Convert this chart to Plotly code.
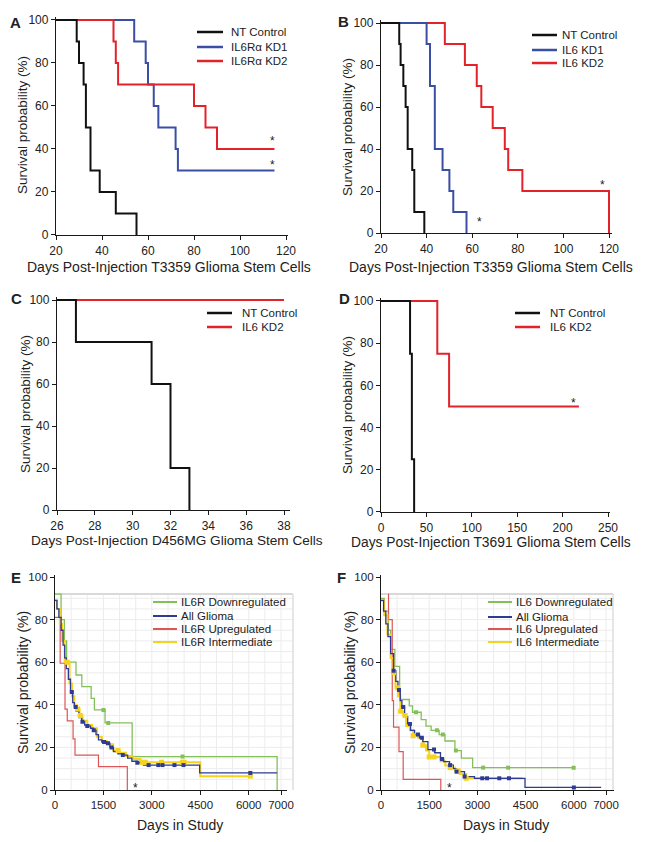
import numpy as np
import plotly.graph_objects as go

W, H = 651, 842
FONT = "Liberation Sans, Arial, sans-serif"

# ---------------- Data ----------------
# Panel A (T3359, IL6R alpha knockdown)
a_nt_days = [20, 29, 30, 32, 33, 35, 39, 46, 55]
a_nt_surv = [100, 90, 80, 70, 50, 30, 20, 10, 0]
a_kd1_days = [20, 54, 59, 60, 62.5, 64.5, 72, 73, 115]
a_kd1_surv = [100, 90, 80, 70, 60, 50, 40, 30, 30]
a_kd2_days = [20, 45, 46, 47, 80, 85, 90, 115]
a_kd2_surv = [100, 90, 80, 70, 60, 50, 40, 40]
a_star_x = [114, 114]
a_star_y = [45, 34]
a_legend = ["NT Control", "IL6Rα KD1", "IL6Rα KD2"]

# Panel B (T3359, IL6 knockdown)
b_nt_days = [20, 28, 28.6, 29.8, 30.8, 31.7, 33.7, 34.6, 39]
b_nt_surv = [100, 90, 80, 70, 60, 40, 30, 10, 0]
b_kd1_days = [20, 40, 41.5, 43.6, 47, 50, 51.7, 57.5]
b_kd1_surv = [100, 90, 70, 40, 30, 20, 10, 0]
b_kd2_days = [20, 48, 56.8, 62, 64, 69, 74.3, 75.8, 82, 120]
b_kd2_surv = [100, 90, 80, 70, 60, 50, 40, 30, 20, 0]
b_star_x = [117, 63]
b_star_y = [24.5, 6.5]
b_legend = ["NT Control", "IL6 KD1", "IL6 KD2"]

# Panel C (D456MG)
c_nt_days = [26, 27, 31, 32, 33]
c_nt_surv = [100, 80, 60, 20, 0]
c_kd2_days = [26, 38]
c_kd2_surv = [100, 100]
c_star_x = [37.9]
c_star_y = [104]
c_legend = ["NT Control", "IL6 KD2"]

# Panel D (T3691)
d_nt_days = [0, 32, 34, 36.5]
d_nt_surv = [100, 75, 25, 0]
d_kd2_days = [0, 62, 75, 218]
d_kd2_surv = [100, 75, 50, 50]
d_star_x = [212]
d_star_y = [53]
d_legend = ["NT Control", "IL6 KD2"]

# Panel E (REMBRANDT, IL6R)
e_down_days = [0, 188, 290, 360, 650, 830, 1120, 1220, 1550, 2390, 6880]
e_down_surv = [92, 80, 70, 60, 54, 48.5, 43, 37.6, 31.5, 15.7, 0]
e_down_cens = [1500, 1650, 3950]
e_all_days = [0, 60, 120, 190, 250, 300, 350, 414, 480, 549, 600, 652, 740, 828, 920,
              983, 1100, 1190, 1270, 1346, 1450, 1605, 1700, 1812, 1950, 2100, 2250,
              2381, 2550, 2743, 4480, 6880]
e_all_surv = [89, 85, 81, 75, 68, 62, 57, 52, 46, 41, 39, 37, 34, 32, 30.5,
              30, 29, 28, 26, 23.5, 22.5, 22, 20, 18, 17, 16.4, 15,
              13.5, 12.8, 11.7, 8, 8]
e_all_cens = [520, 640, 850, 1000, 1200, 1520, 1640, 1750, 2100, 2550, 2900, 3200,
              3330, 3700, 3980, 6050]
e_int_days = [0, 60, 150, 220, 300, 450, 530, 600, 680, 760, 850, 1000, 1150, 1300,
              1450, 1600, 1800, 2000, 2200, 2400, 2650, 4500, 6050]
e_int_surv = [89, 85, 78, 70, 60, 50, 44, 40, 38, 35, 32.5, 30.5, 29, 25,
              23, 21.5, 18.5, 17.5, 16, 14.5, 13, 6.5, 6.5]
e_int_cens = [380, 700, 780, 1950, 2700, 2800, 3300, 3950, 4000, 6050]
e_up_days = [0, 160, 310, 380, 560, 620, 1346, 2240]
e_up_surv = [81, 59.5, 38, 32.5, 24, 16.4, 11, 0]
e_star_x = [2480]
e_star_y = [2.5]
e_legend = ["IL6R Downregulated", "All Glioma", "IL6R Upregulated", "IL6R Intermediate"]

# Panel F (REMBRANDT, IL6)
f_down_days = [0, 100, 230, 300, 430, 580, 880, 980, 1250, 1400, 1560, 1810, 1990,
               2300, 2500, 2850, 6000]
f_down_surv = [90, 84, 75, 66, 58, 42.5, 39.5, 36.5, 33, 30, 28, 26, 23,
               18.5, 15, 10.5, 10.5]
f_down_cens = [1090, 1740, 1926, 2330, 3178, 3954, 5994]
f_all_days = [0, 80, 150, 217, 300, 393, 460, 528, 600, 650, 735, 830, 920, 1045, 1200,
              1300, 1460, 1667, 1850, 1950, 2132, 2250, 2350, 2598, 2909, 4480, 6850]
f_all_surv = [89, 84, 78, 72, 64, 56, 51, 47, 42, 39, 34.4, 31, 28, 26, 24.5,
              22.7, 19, 17.5, 14.5, 13.3, 11.7, 10, 8.6, 6.3, 5.5, 1.2, 1.2]
f_all_cens = [393, 560, 690, 900, 1150, 1270, 1650, 1900, 2150, 2350, 2600, 3150,
              3300, 3680, 3980, 6000]
f_int_days = [0, 100, 200, 300, 390, 450, 530, 600, 690, 780, 900, 1000, 1150, 1300,
              1400, 1500, 1700, 1850, 2000, 2150, 2300, 2450, 2650, 4400]
f_int_surv = [89, 82, 73, 62, 55, 48, 44, 37, 35, 30, 28, 25.5, 24.5, 21,
              18.5, 15.5, 15.5, 13.5, 11.5, 10.5, 9, 7.5, 5.5, 5.5]
f_int_cens = [390, 520, 610, 750, 1000, 1300, 1500, 1650, 2150, 2400, 2650]
f_up_days = [228, 234, 350, 390, 560, 690, 1860]
f_up_surv = [92, 80, 42, 29.5, 18, 5, 0]
f_star_x = [2140]
f_star_y = [2.5]
f_legend = ["IL6 Downregulated", "All Glioma", "IL6 Upregulated", "IL6 Intermediate"]

# ---------------- Styling ----------------
BLACK = "#111111"
BLUE = "#3a4fa3"
RED = "#e3232a"
GREEN = "#84c05a"
NAVY = "#2e3a94"
LRED = "#dc5656"
YELLOW = "#f5d31a"
AXC = "#1a1a1a"


def dom_x(v0, p0, v1, p1, r0, r1):
    s = (p1 - p0) / (v1 - v0)
    return [(p0 + (r0 - v0) * s) / W, (p0 + (r1 - v0) * s) / W]


def dom_y(v0, p0, v1, p1, r0, r1):
    s = (p1 - p0) / (v1 - v0)
    a = p0 + (r0 - v0) * s
    b = p0 + (r1 - v0) * s
    return sorted([1 - a / H, 1 - b / H])


def step_at(days, surv, t):
    idx = np.searchsorted(np.array(days), np.array(t), side="right") - 1
    return list(np.array(surv)[idx])


panels = {
    "A": dict(n="", xcal=(20, 56, 120, 286), xr=[20, 121], ycal=(0, 235, 100, 20), yr=[0, 101.5],
              xt=[20, 40, 60, 80, 100, 120]),
    "B": dict(n="2", xcal=(20, 381, 120, 609), xr=[20, 121.5], ycal=(0, 233, 100, 23), yr=[0, 101.5],
              xt=[20, 40, 60, 80, 100, 120]),
    "C": dict(n="3", xcal=(26, 57, 38, 284), xr=[26, 38.3], ycal=(0, 510, 100, 300), yr=[0, 101.5],
              xt=[26, 28, 30, 32, 34, 36, 38]),
    "D": dict(n="4", xcal=(0, 381, 250, 608), xr=[0, 252], ycal=(0, 512, 100, 301), yr=[0, 101.5],
              xt=[0, 50, 100, 150, 200, 250]),
    "E": dict(n="5", xcal=(0, 55, 7000, 281), xr=[0, 7200], ycal=(0, 790, 100, 577), yr=[0, 101],
              xt=[0, 1500, 3000, 4500, 6000, 7000]),
    "F": dict(n="6", xcal=(0, 381, 7000, 606), xr=[0, 7250], ycal=(0, 790, 100, 577), yr=[0, 101],
              xt=[0, 1500, 3000, 4500, 6000, 7000]),
}

fig = go.Figure()
layout = dict(width=W, height=H, margin=dict(l=0, r=0, t=0, b=0, pad=0, autoexpand=False),
              paper_bgcolor="white", plot_bgcolor="rgba(0,0,0,0)",
              showlegend=False, font=dict(family=FONT, color="#222"))
shapes = []
annotations = []

for key, p in panels.items():
    n = p["n"]
    xa, ya = "x" + n, "y" + n
    tsize = 12 if key in "ABCD" else 11.5
    layout["xaxis" + n] = dict(
        domain=dom_x(*p["xcal"], *p["xr"]), range=p["xr"], tickmode="array", tickvals=p["xt"],
        anchor=ya, showline=True, linecolor=AXC, linewidth=1.3, ticks="outside", ticklen=4,
        tickwidth=1.2, tickcolor=AXC, showgrid=False, zeroline=False, fixedrange=True,
        automargin=False, tickfont=dict(size=tsize, color="#222", family=FONT))
    layout["yaxis" + n] = dict(
        domain=dom_y(*p["ycal"], *p["yr"]), range=p["yr"], tickmode="array",
        tickvals=[0, 20, 40, 60, 80, 100], anchor=xa, showline=True, linecolor=AXC, linewidth=1.3,
        ticks="outside", ticklen=4, tickwidth=1.2, tickcolor=AXC, showgrid=False, zeroline=False,
        fixedrange=True, automargin=False, tickfont=dict(size=tsize, color="#222", family=FONT))


def line(x, y, color, width, key):
    n = panels[key]["n"]
    fig.add_trace(go.Scatter(x=x, y=y, mode="lines", line=dict(color=color, width=width, shape="hv"),
                             xaxis="x" + n, yaxis="y" + n, hoverinfo="skip"))


def marks(days, surv, cens, color, size, key):
    n = panels[key]["n"]
    fig.add_trace(go.Scatter(x=cens, y=step_at(days, surv, cens), mode="markers",
                             marker=dict(symbol="square", color=color, size=size, line=dict(width=0)),
                             xaxis="x" + n, yaxis="y" + n, hoverinfo="skip"))


def stars(xs, ys, key, color="#222"):
    n = panels[key]["n"]
    for x, y in zip(xs, ys):
        annotations.append(dict(x=x, y=y, xref="x" + n, yref="y" + n, text="*", showarrow=False,
                                font=dict(size=12, color=color, family=FONT), yshift=-3))


# Panel A
line(a_kd1_days, a_kd1_surv, BLUE, 2, "A")
line(a_kd2_days, a_kd2_surv, RED, 2, "A")
line(a_nt_days, a_nt_surv, BLACK, 2, "A")
stars(a_star_x, a_star_y, "A")
# Panel B
line(b_kd2_days, b_kd2_surv, RED, 2, "B")
line(b_kd1_days, b_kd1_surv, BLUE, 2, "B")
line(b_nt_days, b_nt_surv, BLACK, 2, "B")
stars(b_star_x, b_star_y, "B")
# Panel C
line(c_kd2_days, c_kd2_surv, RED, 2, "C")
line(c_nt_days, c_nt_surv, BLACK, 2, "C")
stars(c_star_x, c_star_y, "C", color="#b02020")
# Panel D
line(d_kd2_days, d_kd2_surv, RED, 2, "D")
line(d_nt_days, d_nt_surv, BLACK, 2, "D")
stars(d_star_x, d_star_y, "D")

# Panels E and F: gridded background
for key, px0, pxr in (("E", 55, 293), ("F", 381, 613)):
    p = panels[key]
    sx = (p["xcal"][3] - p["xcal"][1]) / (p["xcal"][2] - p["xcal"][0])
    y0px, y100px = p["ycal"][1], p["ycal"][3]
    sy = (y100px - y0px) / 100.0
    ytop = y0px + 92 * sy
    d = 500
    while px0 + d * sx < pxr - 2:
        xx = px0 + d * sx
        shapes.append(dict(type="line", xref="paper", yref="paper", x0=xx / W, x1=xx / W,
                           y0=1 - y0px / H, y1=1 - ytop / H, line=dict(color="#ececec", width=1),
                           layer="below"))
        d += 500
    for v in range(5, 92, 5):
        yy = y0px + v * sy
        shapes.append(dict(type="line", xref="paper", yref="paper", x0=px0 / W, x1=pxr / W,
                           y0=1 - yy / H, y1=1 - yy / H, line=dict(color="#ececec", width=1),
                           layer="below"))
    shapes.append(dict(type="line", xref="paper", yref="paper", x0=px0 / W, x1=pxr / W,
                       y0=1 - ytop / H, y1=1 - ytop / H, line=dict(color="#d9d9d9", width=2),
                       layer="below"))
    shapes.append(dict(type="line", xref="paper", yref="paper", x0=pxr / W, x1=pxr / W,
                       y0=1 - y0px / H, y1=1 - ytop / H, line=dict(color="#dedede", width=1.5),
                       layer="below"))

# Panel E
line(e_down_days, e_down_surv, GREEN, 1.3, "E")
line(e_up_days, e_up_surv, LRED, 1.2, "E")
line(e_int_days, e_int_surv, YELLOW, 2, "E")
line(e_all_days, e_all_surv, NAVY, 1.3, "E")
marks(e_down_days, e_down_surv, e_down_cens, GREEN, 4, "E")
marks(e_int_days, e_int_surv, e_int_cens, YELLOW, 5, "E")
marks(e_all_days, e_all_surv, e_all_cens, NAVY, 4, "E")
stars(e_star_x, e_star_y, "E")
# Panel F
line(f_down_days, f_down_surv, GREEN, 1.3, "F")
line(f_up_days, f_up_surv, LRED, 1.2, "F")
line(f_int_days, f_int_surv, YELLOW, 2, "F")
line(f_all_days, f_all_surv, NAVY, 1.3, "F")
marks(f_down_days, f_down_surv, f_down_cens, GREEN, 4, "F")
marks(f_int_days, f_int_surv, f_int_cens, YELLOW, 5, "F")
marks(f_all_days, f_all_surv, f_all_cens, NAVY, 4, "F")
stars(f_star_x, f_star_y, "F")


# ---------------- Legends (manual) ----------------
def legend(labels, colors, x0, x1, xt, ys, size=11.5, lw=2.5):
    for lab, col, y in zip(labels, colors, ys):
        shapes.append(dict(type="line", xref="paper", yref="paper", x0=x0 / W, x1=x1 / W,
                           y0=1 - y / H, y1=1 - y / H, line=dict(color=col, width=lw)))
        annotations.append(dict(x=xt / W, y=1 - y / H, xref="paper", yref="paper", text=lab,
                                showarrow=False, xanchor="left", yanchor="middle",
                                font=dict(size=size, color="#222", family=FONT)))


legend(a_legend, [BLACK, BLUE, RED], 197, 223, 229, [32, 47, 61])
legend(b_legend, [BLACK, BLUE, RED], 532, 557, 560, [35, 50, 63])
legend(c_legend, [BLACK, RED], 207, 232, 240, [313, 327])
legend(d_legend, [BLACK, RED], 515, 540, 548, [313, 327])
legend(e_legend, [GREEN, NAVY, LRED, YELLOW], 153, 177, 179, [602, 616, 629, 642], lw=2)
legend(f_legend, [GREEN, NAVY, LRED, YELLOW], 488, 512, 514, [602, 617, 629, 642], lw=2)


# ---------------- Titles & panel letters ----------------
def text(x, y, s, size, angle=0, bold=False):
    annotations.append(dict(x=x / W, y=1 - y / H, xref="paper", yref="paper",
                            text=("<b>%s</b>" % s) if bold else s, showarrow=False,
                            xanchor="center", yanchor="middle", textangle=angle,
                            font=dict(size=size, color="#222", family=FONT)))


ylab = "Survival probability (%)"
text(23, 125, ylab, 13.5, -90)
text(348, 127, ylab, 13.5, -90)
text(25, 404, ylab, 13.5, -90)
text(348, 405, ylab, 13.5, -90)
text(23, 683, ylab, 14, -90)
text(350, 683, ylab, 14, -90)
text(169, 267, "Days Post-Injection T3359 Glioma Stem Cells", 14)
text(491, 267, "Days Post-Injection T3359 Glioma Stem Cells", 14)
text(177, 540, "Days Post-Injection D456MG Glioma Stem Cells", 13.6)
text(491, 542, "Days Post-Injection T3691 Glioma Stem Cells", 13.8)
text(180, 825, "Days in Study", 14)
text(506, 825, "Days in Study", 14)
for lab, (x, y) in zip("ABCDEF", [(15, 23), (343, 22), (16, 299), (344, 299), (16, 577), (342, 577)]):
    text(x, y, lab, 15, bold=True)

layout["shapes"] = shapes
layout["annotations"] = annotations
fig.update_layout(**layout)
fig.write_html("out.html", config={"displayModeBar": False},
               post_script="document.body.style.margin='0';document.body.style.padding='0';")
